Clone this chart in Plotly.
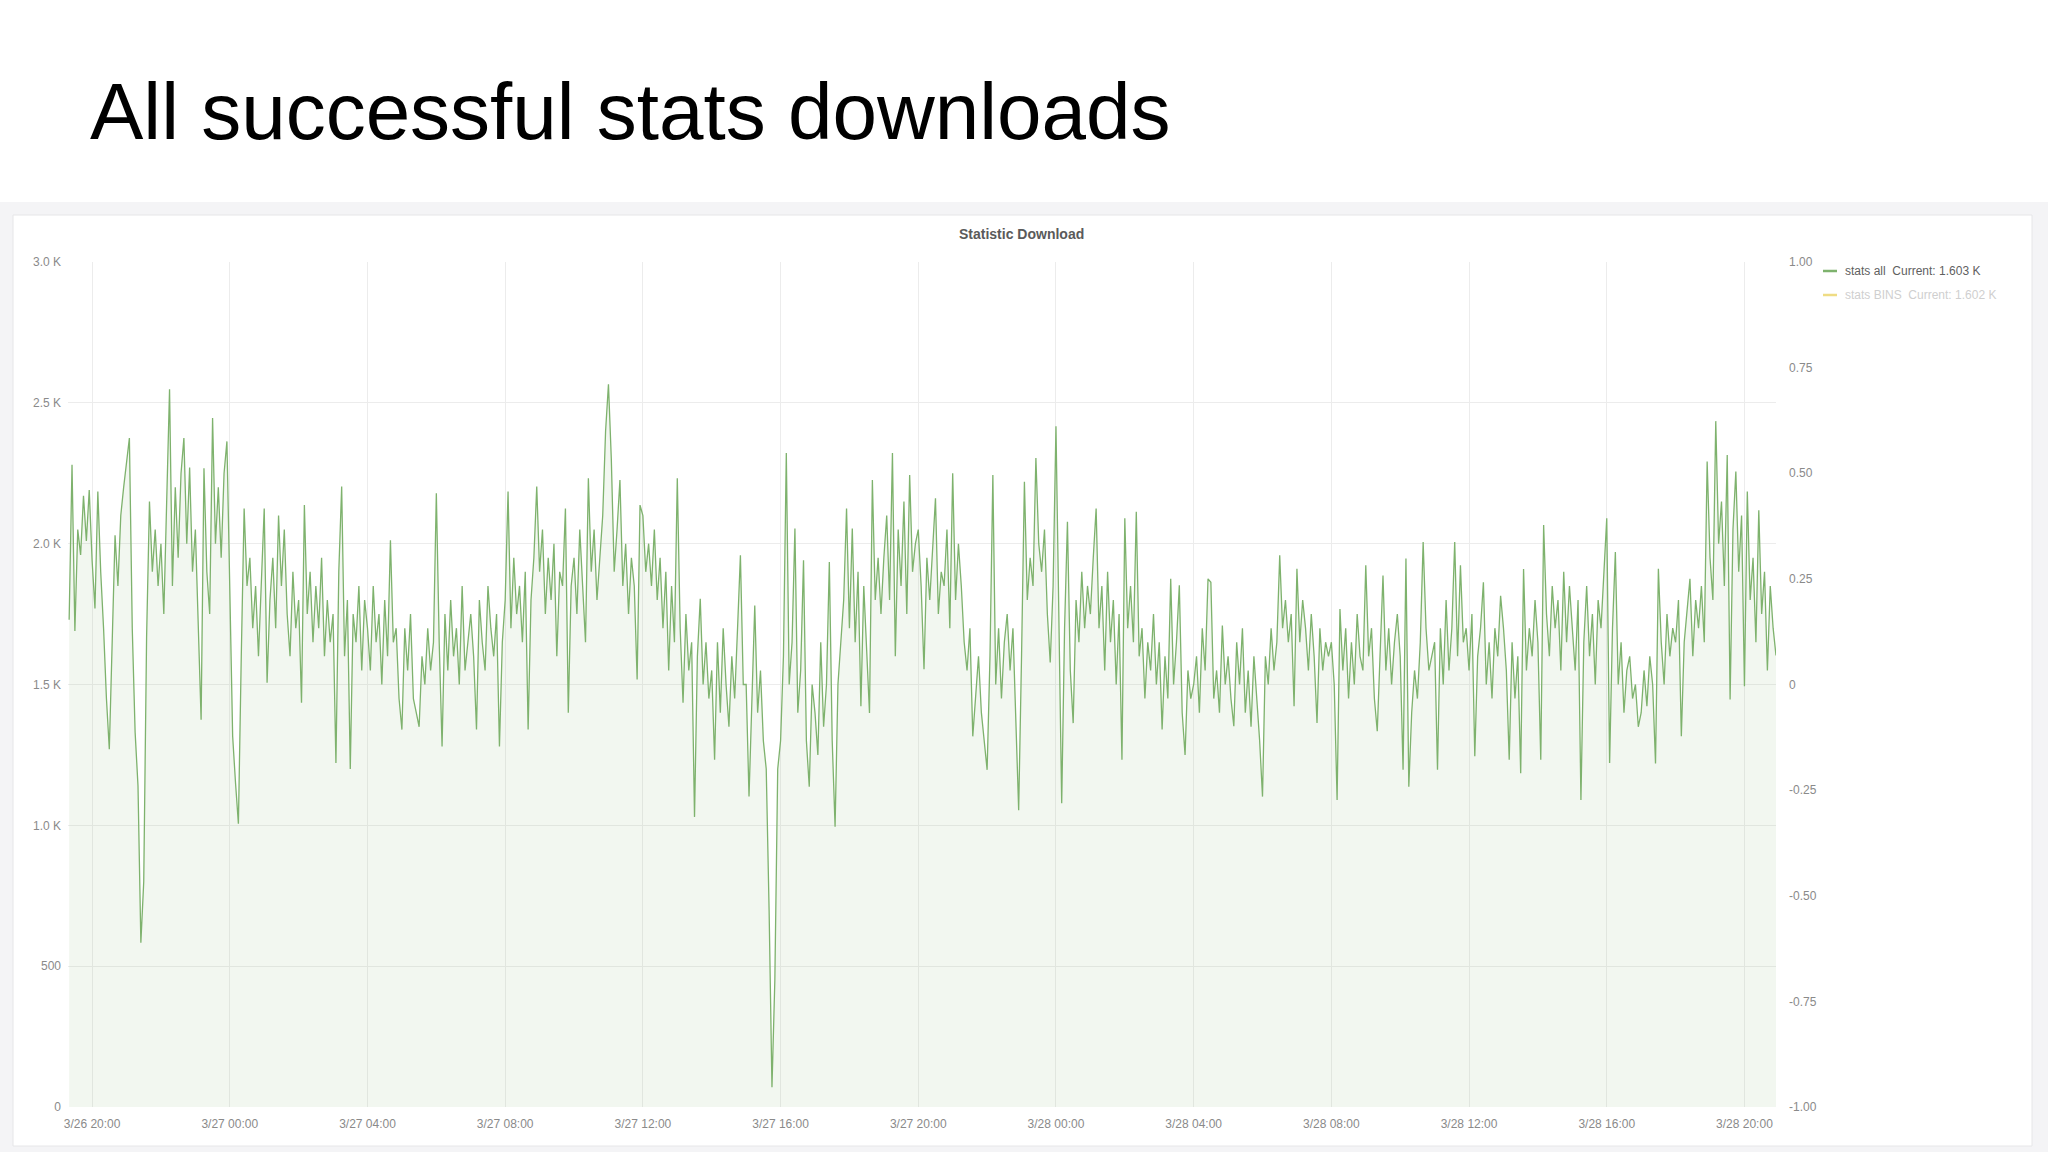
import pandas as pd
import plotly.graph_objects as go

# ---------------- data (5-minute samples) ----------------
start_time = "2018-03-26 19:20"
sample_step = "5min"

# 3/26 19:20 - 19:55
evening_0 = [1730, 2280, 1690, 2050, 1960, 2170, 2010, 2190]

# 3/26 20:00 - 3/27 07:55
night_1 = [
    1940, 1770, 2185, 1900, 1700, 1450, 1270, 1700, 2030, 1850, 2100, 2200,
    2300, 2375, 1700, 1330, 1140, 583, 800, 1670, 2150, 1900, 2050, 1850,
    2000, 1750, 2150, 2548, 1850, 2200, 1950, 2250, 2375, 2000, 2270, 1900,
    2050, 1700, 1375, 2268, 1900, 1750, 2446, 2000, 2200, 1950, 2250, 2363,
    1850, 1316, 1150, 1006, 1600, 2125, 1850, 1950, 1700, 1850, 1600, 1900,
    2125, 1506, 1800, 1950, 1700, 2100, 1850, 2050, 1750, 1600, 1900, 1700,
    1800, 1435, 2137, 1750, 1900, 1650, 1850, 1700, 1950, 1600, 1800, 1650,
    1750, 1221, 1900, 2203, 1600, 1800, 1200, 1750, 1650, 1850, 1550, 1800,
    1700, 1550, 1850, 1650, 1750, 1500, 1800, 1600, 2012, 1650, 1700, 1450,
    1340, 1700, 1550, 1750, 1450, 1400, 1350, 1600, 1500, 1700, 1550, 1650,
    2179, 1650, 1280, 1750, 1550, 1800, 1600, 1700, 1500, 1850, 1550, 1650,
    1750, 1600, 1340, 1800, 1650, 1550, 1850, 1700, 1600, 1750, 1280, 1650,
]

# 3/27 08:00 - 19:55
day_1 = [
    1800, 2185, 1700, 1950, 1750, 1850, 1650, 1900, 1340, 1800, 1950, 2203,
    1900, 2050, 1750, 1950, 1800, 2000, 1600, 1900, 1850, 2125, 1400, 1850,
    1950, 1750, 2050, 1850, 1650, 2232, 1900, 2050, 1800, 1950, 2100, 2400,
    2566, 2300, 1900, 2050, 2226, 1850, 2000, 1750, 1950, 1850, 1518, 2137,
    2100, 1900, 2000, 1850, 2050, 1800, 1950, 1700, 1900, 1550, 1850, 1650,
    2232, 1700, 1435, 1750, 1550, 1650, 1030, 1600, 1804, 1500, 1650, 1450,
    1550, 1233, 1650, 1400, 1700, 1500, 1350, 1600, 1450, 1700, 1959, 1500,
    1500, 1102, 1450, 1780, 1400, 1550, 1300, 1200, 700, 70, 450, 1200,
    1300, 1600, 2322, 1500, 1650, 2054, 1400, 1550, 1941, 1300, 1137, 1500,
    1400, 1250, 1650, 1350, 1500, 1935, 1300, 995, 1500, 1650, 1800, 2125,
    1700, 2054, 1650, 1900, 1423, 1850, 1600, 1399, 2226, 1800, 1950, 1750,
    1950, 2100, 1800, 2322, 1600, 2050, 1850, 2150, 1750, 2244, 1900, 2000,
]

# 3/27 20:00 - 3/28 07:55
night_2 = [
    2050, 1850, 1554, 1950, 1800, 2000, 2161, 1750, 1900, 1850, 2050, 1700,
    2250, 1800, 2000, 1850, 1650, 1550, 1700, 1316, 1450, 1600, 1400, 1300,
    1197, 1600, 2244, 1500, 1700, 1450, 1650, 1750, 1550, 1700, 1350, 1054,
    1600, 2220, 1800, 1950, 1850, 2304, 2000, 1900, 2050, 1750, 1578, 1850,
    2417, 1800, 1078, 1700, 2078, 1550, 1363, 1800, 1650, 1900, 1700, 1850,
    1750, 1950, 2125, 1700, 1850, 1550, 1900, 1650, 1800, 1500, 1750, 1233,
    2090, 1700, 1850, 1650, 2113, 1600, 1700, 1450, 1650, 1550, 1750, 1500,
    1650, 1340, 1600, 1450, 1875, 1500, 1650, 1852, 1400, 1250, 1550, 1450,
    1500, 1600, 1400, 1700, 1550, 1875, 1863, 1450, 1550, 1400, 1709, 1500,
    1600, 1450, 1352, 1650, 1500, 1700, 1400, 1550, 1350, 1600, 1450, 1300,
    1102, 1600, 1500, 1700, 1550, 1650, 1959, 1700, 1800, 1650, 1750, 1423,
    1911, 1650, 1800, 1700, 1550, 1750, 1600, 1363, 1700, 1550, 1650, 1600,
]

# 3/28 08:00 - 20:55
day_2 = [
    1650, 1500, 1090, 1768, 1550, 1700, 1450, 1650, 1500, 1750, 1600, 1550,
    1923, 1600, 1700, 1450, 1334, 1650, 1887, 1550, 1700, 1500, 1650, 1750,
    1600, 1197, 1947, 1137, 1400, 1550, 1450, 1650, 2006, 1700, 1550, 1600,
    1650, 1197, 1700, 1500, 1800, 1550, 1700, 2006, 1600, 1923, 1650, 1700,
    1550, 1750, 1245, 1600, 1700, 1863, 1500, 1650, 1450, 1700, 1600, 1815,
    1700, 1550, 1233, 1650, 1450, 1600, 1185, 1910, 1550, 1700, 1600, 1800,
    1650, 1233, 2066, 1750, 1600, 1850, 1700, 1800, 1550, 1900, 1650, 1850,
    1700, 1550, 1800, 1090, 1650, 1850, 1600, 1750, 1500, 1800, 1700, 1900,
    2090, 1221, 1700, 1970, 1500, 1650, 1400, 1550, 1600, 1450, 1500, 1350,
    1400, 1550, 1423, 1600, 1500, 1220, 1911, 1650, 1500, 1750, 1600, 1700,
    1650, 1800, 1316, 1650, 1750, 1875, 1600, 1800, 1700, 1850, 1650, 2292,
    1950, 1800, 2435, 2000, 2150, 1850, 2315, 1447, 2050, 2256, 1900, 2100,
    1494, 2185, 1800, 1950, 1650, 2119, 1750, 1900, 1550, 1850, 1700, 1603,
]

series_names = ["stats all", "stats BINS"]
series_current = ["1.603 K", "1.602 K"]

left_tick_vals = [0, 500, 1000, 1500, 2000, 2500, 3000]
left_tick_text = ["0", "500", "1.0 K", "1.5 K", "2.0 K", "2.5 K", "3.0 K"]
right_tick_vals = [-1, -0.75, -0.5, -0.25, 0, 0.25, 0.5, 0.75, 1]
right_tick_text = ["-1.00", "-0.75", "-0.50", "-0.25", "0", "0.25", "0.50", "0.75", "1.00"]

slide_title = "All successful stats downloads"
panel_title = "Statistic Download"

# ---------------- layout geometry (pixels) ----------------
W, H = 2048, 1152
PL, PR, PT, PB = 68, 1776, 262, 1107


def px(x):
    return (x - PL) / (PR - PL)


def py(y):
    return (PB - y) / (PB - PT)


values = evening_0 + night_1 + day_1 + night_2 + day_2
times = pd.date_range(start_time, periods=len(values), freq=sample_step)

GREEN = "#7EB26D"
YELLOW = "#EAB839"
TICK_COLOR = "#8a8a8a"
GRID = "#ececec"
FONT = "Liberation Sans, Arial, sans-serif"

fig = go.Figure()
fig.add_trace(go.Scatter(
    x=times, y=values, mode="lines", name=series_names[0],
    line=dict(color=GREEN, width=1.3),
    fill="tozeroy", fillcolor="rgba(126,178,109,0.10)",
    showlegend=False, hoverinfo="x+y",
))
# hidden second series (only present on the right axis, as in the source)
fig.add_trace(go.Scatter(
    x=[], y=[], yaxis="y2", mode="lines", name=series_names[1],
    line=dict(color=YELLOW), showlegend=False, hoverinfo="skip",
))

shapes = [
    # light grey backdrop of the dashboard
    dict(type="rect", xref="paper", yref="paper", x0=px(0), x1=px(W), y0=py(H), y1=py(202),
         fillcolor="#f4f4f6", line=dict(width=0), layer="below"),
    # white panel
    dict(type="rect", xref="paper", yref="paper", x0=px(13), x1=px(2032), y0=py(1146), y1=py(215),
         fillcolor="#ffffff", line=dict(color="#e6e6e8", width=1), layer="below"),
    # legend swatches
    dict(type="line", xref="paper", yref="paper", x0=px(1823), x1=px(1837), y0=py(271), y1=py(271),
         line=dict(color=GREEN, width=2.5)),
    dict(type="line", xref="paper", yref="paper", x0=px(1823), x1=px(1837), y0=py(295), y1=py(295),
         line=dict(color="#efdc84", width=2.5)),
]

annotations = [
    dict(text=slide_title, xref="paper", yref="paper", x=px(88), y=py(111),
         xanchor="left", yanchor="middle", showarrow=False,
         font=dict(family=FONT, size=80, color="#000000")),
    dict(text="<b>" + panel_title + "</b>", xref="paper", yref="paper", x=px(1022), y=py(234),
         xanchor="center", yanchor="middle", showarrow=False,
         font=dict(family=FONT, size=14, color="#5a5a5a")),
    dict(text=series_names[0] + "  Current: " + series_current[0], xref="paper", yref="paper",
         x=px(1843), y=py(271), xanchor="left", yanchor="middle", showarrow=False,
         font=dict(family=FONT, size=12, color="#5f5f5f")),
    dict(text=series_names[1] + "  Current: " + series_current[1], xref="paper", yref="paper",
         x=px(1843), y=py(295), xanchor="left", yanchor="middle", showarrow=False,
         font=dict(family=FONT, size=12, color="#cfcfcf")),
]

fig.update_layout(
    width=W, height=H,
    margin=dict(l=PL, r=W - PR, t=PT, b=H - PB, pad=0),
    paper_bgcolor="#ffffff", plot_bgcolor="rgba(0,0,0,0)",
    font=dict(family=FONT, size=12, color=TICK_COLOR),
    shapes=shapes, annotations=annotations,
    xaxis=dict(
        type="date",
        range=["2018-03-26 19:18", "2018-03-28 20:55"],
        tick0="2018-03-26 20:00", dtick=4 * 3600 * 1000,
        tickformat="%-m/%d %H:%M",
        showgrid=True, gridcolor=GRID, gridwidth=1,
        zeroline=False, showline=False, ticks="",
        tickfont=dict(size=12, color=TICK_COLOR),
        ticklabelstandoff=8,
    ),
    yaxis=dict(
        range=[0, 3000], tickvals=left_tick_vals, ticktext=left_tick_text,
        showgrid=True, gridcolor=GRID, gridwidth=1,
        zeroline=False, showline=False, ticks="",
        tickfont=dict(size=12, color=TICK_COLOR),
        ticklabelstandoff=6,
    ),
    yaxis2=dict(
        overlaying="y", side="right", range=[-1, 1],
        tickvals=right_tick_vals, ticktext=right_tick_text,
        showgrid=False, zeroline=False, showline=False, ticks="",
        tickfont=dict(size=12, color=TICK_COLOR),
        ticklabelstandoff=12,
    ),
    showlegend=False,
)

# remove the browser's default 8px page margin so the figure sits at (0, 0)
fig.write_html(
    "out.html",
    config={"displayModeBar": False},
    post_script="document.body.style.margin='0';document.body.style.overflow='hidden';",
)
